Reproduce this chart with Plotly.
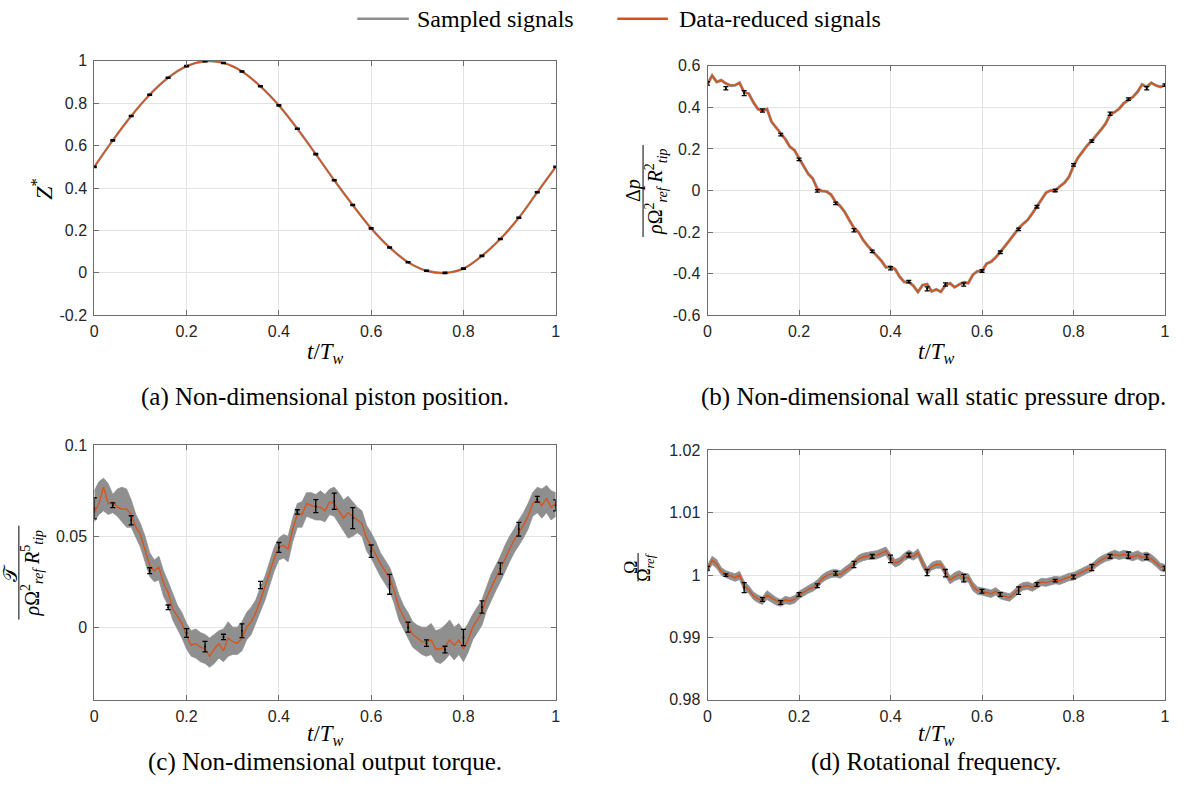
import plotly.graph_objects as go

# The page body keeps its default 8 px margin, so the figure is sized to fit the window exactly.
OFF = 8
W, H = 1187 - 2 * OFF, 810 - 2 * OFF

# ---------------- data ----------------
T = [round(i * 0.01, 2) for i in range(101)]
T_BAR = [round(i * 0.04, 2) for i in range(26)]

# (a) piston position (values at 0.04 spacing)
A_Z = [0.5, 0.625, 0.74, 0.84, 0.92, 0.975, 0.998, 0.99, 0.95, 0.88, 0.79, 0.68, 0.56,
       0.437, 0.32, 0.21, 0.12, 0.05, 0.01, 0.0, 0.02, 0.08, 0.16, 0.26, 0.38, 0.5]
A_ERR = [0.003, 0.003, 0.003, 0.003, 0.003, 0.003, 0.003, 0.003, 0.003, 0.003, 0.003, 0.003, 0.003,
         0.003, 0.003, 0.003, 0.003, 0.003, 0.003, 0.003, 0.003, 0.003, 0.003, 0.003, 0.003, 0.003]

# (b) wall static pressure drop
B_DP = [0.512, 0.553, 0.522, 0.530, 0.515, 0.505, 0.506, 0.518, 0.472, 0.466,
        0.425, 0.392, 0.383, 0.392, 0.330, 0.303, 0.272, 0.247, 0.210, 0.194,
        0.155, 0.117, 0.080, 0.057, 0.008, -0.002, -0.005, -0.020, -0.055, -0.075,
        -0.104, -0.143, -0.180, -0.200, -0.238, -0.266, -0.291, -0.312, -0.338, -0.370,
        -0.366, -0.378, -0.415, -0.440, -0.440, -0.458, -0.488, -0.455, -0.450, -0.485,
        -0.476, -0.487, -0.455, -0.446, -0.465, -0.452, -0.442, -0.445, -0.405, -0.388,
        -0.387, -0.352, -0.342, -0.322, -0.297, -0.268, -0.240, -0.212, -0.182, -0.160,
        -0.141, -0.110, -0.076, -0.043, -0.010, 0.000, -0.001, 0.020, 0.036, 0.065,
        0.118, 0.158, 0.186, 0.217, 0.239, 0.264, 0.292, 0.321, 0.365, 0.377,
        0.394, 0.420, 0.437, 0.450, 0.475, 0.510, 0.498, 0.518, 0.505, 0.498,
        0.507]
B_BAR = [0.515, 0.492, 0.468, 0.385, 0.269, 0.150, -0.002, -0.062, -0.191, -0.293, -0.374, -0.438, -0.473,
         -0.452, -0.452, -0.387, -0.297, -0.187, -0.078, 0.000, 0.123, 0.237, 0.369, 0.439, 0.492, 0.507]
B_ERR = [0.008, 0.008, 0.012, 0.008, 0.006, 0.006, 0.006, 0.006, 0.008, 0.006, 0.008, 0.006, 0.010,
         0.008, 0.008, 0.006, 0.006, 0.006, 0.006, 0.006, 0.006, 0.006, 0.008, 0.006, 0.008, 0.006]

# (c) output torque
C_TQ = [0.063, 0.068, 0.077, 0.068, 0.069, 0.066, 0.065, 0.065, 0.062, 0.055,
        0.051, 0.043, 0.034, 0.031, 0.033, 0.024, 0.019, 0.010, 0.006, 0.002,
        -0.005, -0.010, -0.009, -0.011, -0.012, -0.016, -0.012, -0.009, -0.013, -0.006,
        -0.008, -0.009, -0.006, 0.000, 0.003, 0.008, 0.015, 0.022, 0.030, 0.038,
        0.044, 0.045, 0.043, 0.054, 0.062, 0.062, 0.068, 0.067, 0.066, 0.066,
        0.064, 0.069, 0.068, 0.064, 0.060, 0.063, 0.061, 0.059, 0.057, 0.049,
        0.045, 0.040, 0.035, 0.031, 0.027, 0.020, 0.011, 0.006, 0.001, -0.004,
        -0.006, -0.008, -0.008, -0.007, -0.012, -0.012, -0.011, -0.007, -0.010, -0.007,
        -0.012, -0.007, 0.000, 0.004, 0.008, 0.016, 0.022, 0.027, 0.032, 0.038,
        0.043, 0.048, 0.052, 0.056, 0.061, 0.068, 0.070, 0.067, 0.071, 0.066,
        0.068]
C_UP = [0.075, 0.080, 0.082, 0.079, 0.073, 0.076, 0.077, 0.076, 0.070, 0.062,
        0.057, 0.050, 0.041, 0.037, 0.039, 0.031, 0.025, 0.018, 0.012, 0.008,
        0.002, -0.002, -0.001, -0.003, -0.004, -0.006, -0.004, -0.002, -0.001, 0.003,
        0.000, 0.000, 0.003, 0.008, 0.011, 0.015, 0.022, 0.028, 0.036, 0.044,
        0.049, 0.051, 0.050, 0.060, 0.068, 0.069, 0.074, 0.074, 0.073, 0.075,
        0.073, 0.076, 0.077, 0.074, 0.070, 0.072, 0.069, 0.066, 0.064, 0.056,
        0.052, 0.047, 0.041, 0.037, 0.033, 0.026, 0.018, 0.012, 0.008, 0.003,
        0.001, 0.000, 0.000, 0.002, -0.002, -0.001, 0.001, 0.004, 0.000, 0.002,
        -0.002, 0.002, 0.007, 0.011, 0.015, 0.022, 0.029, 0.034, 0.039, 0.045,
        0.050, 0.054, 0.059, 0.063, 0.068, 0.074, 0.077, 0.076, 0.078, 0.075,
        0.074]
C_LO = [0.058, 0.062, 0.064, 0.062, 0.063, 0.061, 0.058, 0.055, 0.055, 0.049,
        0.044, 0.036, 0.028, 0.025, 0.026, 0.017, 0.012, 0.004, -0.001, -0.006,
        -0.012, -0.016, -0.017, -0.019, -0.020, -0.022, -0.020, -0.017, -0.019, -0.016,
        -0.015, -0.015, -0.013, -0.007, -0.004, 0.002, 0.008, 0.015, 0.023, 0.031,
        0.037, 0.038, 0.036, 0.047, 0.055, 0.055, 0.061, 0.060, 0.059, 0.059,
        0.058, 0.062, 0.061, 0.057, 0.053, 0.049, 0.050, 0.052, 0.050, 0.042,
        0.038, 0.033, 0.028, 0.024, 0.020, 0.013, 0.004, -0.001, -0.006, -0.011,
        -0.013, -0.015, -0.016, -0.015, -0.019, -0.020, -0.018, -0.015, -0.018, -0.015,
        -0.019, -0.014, -0.007, -0.003, 0.001, 0.009, 0.015, 0.020, 0.025, 0.031,
        0.036, 0.041, 0.045, 0.049, 0.054, 0.061, 0.063, 0.060, 0.063, 0.059,
        0.061]
C_BAR = [0.0654, 0.0671, 0.0588, 0.0311, 0.0109, -0.0032, -0.0107, -0.0054, -0.0020, 0.0232, 0.0439, 0.0634, 0.0666,
         0.0693, 0.0600, 0.0418, 0.0236, 0.0000, -0.0088, -0.0123, -0.0057, 0.0111, 0.0323, 0.0539, 0.0704, 0.0670]
C_ERR = [0.0058, 0.0013, 0.0025, 0.0016, 0.0013, 0.0024, 0.0029, 0.0015, 0.0038, 0.0020, 0.0027, 0.0012, 0.0036,
         0.0045, 0.0058, 0.0034, 0.0055, 0.0027, 0.0018, 0.0018, 0.0045, 0.0034, 0.0031, 0.0038, 0.0016, 0.0030]

# (d) rotational frequency
D_OM = [1.0010, 1.0024, 1.0018, 1.0006, 1.0002, 0.9999, 0.9996, 1.0000, 0.9982, 0.9977,
        0.9967, 0.9962, 0.9959, 0.9968, 0.9963, 0.9959, 0.9956, 0.9960, 0.9959, 0.9961,
        0.9968, 0.9973, 0.9977, 0.9980, 0.9985, 0.9994, 0.9999, 1.0002, 1.0003, 1.0001,
        1.0006, 1.0012, 1.0018, 1.0026, 1.0029, 1.0031, 1.0031, 1.0032, 1.0035, 1.0039,
        1.0027, 1.0019, 1.0022, 1.0029, 1.0033, 1.0030, 1.0036, 1.0019, 1.0006, 1.0014,
        1.0017, 1.0017, 1.0005, 0.9992, 0.9997, 1.0001, 0.9996, 0.9996, 0.9982, 0.9975,
        0.9974, 0.9972, 0.9970, 0.9974, 0.9968, 0.9966, 0.9964, 0.9970, 0.9978, 0.9982,
        0.9983, 0.9980, 0.9985, 0.9989, 0.9988, 0.9990, 0.9992, 0.9991, 0.9994, 0.9997,
        0.9998, 1.0002, 1.0006, 1.0009, 1.0012, 1.0019, 1.0024, 1.0028, 1.0030, 1.0033,
        1.0031, 1.0033, 1.0031, 1.0029, 1.0032, 1.0028, 1.0030, 1.0026, 1.0020, 1.0013,
        1.0011]
D_UP = [1.0016, 1.0030, 1.0025, 1.0012, 1.0007, 1.0005, 1.0002, 1.0006, 0.9990, 0.9983,
        0.9973, 0.9968, 0.9965, 0.9975, 0.9969, 0.9964, 0.9961, 0.9966, 0.9964, 0.9967,
        0.9974, 0.9979, 0.9983, 0.9987, 0.9992, 1.0000, 1.0005, 1.0008, 1.0009, 1.0007,
        1.0012, 1.0018, 1.0024, 1.0032, 1.0035, 1.0037, 1.0038, 1.0039, 1.0042, 1.0045,
        1.0034, 1.0025, 1.0028, 1.0035, 1.0040, 1.0036, 1.0042, 1.0026, 1.0012, 1.0020,
        1.0023, 1.0023, 1.0012, 0.9998, 1.0004, 1.0007, 1.0003, 1.0002, 0.9989, 0.9981,
        0.9980, 0.9978, 0.9976, 0.9980, 0.9974, 0.9972, 0.9970, 0.9976, 0.9984, 0.9988,
        0.9989, 0.9986, 0.9991, 0.9995, 0.9994, 0.9996, 0.9998, 0.9997, 1.0000, 1.0003,
        1.0004, 1.0008, 1.0012, 1.0015, 1.0018, 1.0025, 1.0030, 1.0034, 1.0037, 1.0040,
        1.0037, 1.0040, 1.0038, 1.0036, 1.0039, 1.0035, 1.0037, 1.0033, 1.0027, 1.0019,
        1.0017]
D_LO = [1.0004, 1.0017, 1.0011, 1.0000, 0.9996, 0.9993, 0.9990, 0.9993, 0.9975, 0.9971,
        0.9961, 0.9956, 0.9953, 0.9961, 0.9956, 0.9952, 0.9950, 0.9954, 0.9953, 0.9955,
        0.9962, 0.9967, 0.9971, 0.9974, 0.9979, 0.9988, 0.9993, 0.9996, 0.9997, 0.9995,
        1.0000, 1.0006, 1.0012, 1.0020, 1.0023, 1.0025, 1.0025, 1.0026, 1.0029, 1.0032,
        1.0020, 1.0013, 1.0016, 1.0023, 1.0027, 1.0024, 1.0029, 1.0012, 1.0000, 1.0008,
        1.0011, 1.0011, 0.9998, 0.9986, 0.9991, 0.9994, 0.9989, 0.9989, 0.9975, 0.9969,
        0.9968, 0.9966, 0.9964, 0.9968, 0.9962, 0.9960, 0.9958, 0.9964, 0.9971, 0.9976,
        0.9977, 0.9974, 0.9979, 0.9983, 0.9982, 0.9984, 0.9986, 0.9985, 0.9988, 0.9991,
        0.9992, 0.9996, 1.0000, 1.0003, 1.0006, 1.0013, 1.0018, 1.0022, 1.0024, 1.0027,
        1.0025, 1.0027, 1.0025, 1.0023, 1.0026, 1.0022, 1.0024, 1.0020, 1.0014, 1.0007,
        1.0005]
D_BAR = [1.0011, 1.0000, 0.9980, 0.9961, 0.9956, 0.9969, 0.9983, 1.0003, 1.0017, 1.0030, 1.0026, 1.0032, 1.0004,
         1.0003, 0.9995, 0.9974, 0.9969, 0.9975, 0.9985, 0.9991, 0.9997, 1.0012, 1.0030, 1.0032, 1.0029, 1.0011]
D_ERR = [0.0003, 0.0002, 0.0008, 0.0003, 0.0003, 0.0003, 0.0003, 0.0003, 0.0005, 0.0003, 0.0006, 0.0003, 0.0005,
         0.0006, 0.0006, 0.0003, 0.0003, 0.0006, 0.0003, 0.0002, 0.0003, 0.0005, 0.0003, 0.0005, 0.0004, 0.0003]

# ticks
X_TICKS = [0, 0.2, 0.4, 0.6, 0.8, 1]
X_TEXT = ["0", "0.2", "0.4", "0.6", "0.8", "1"]
A_YT = [-0.2, 0, 0.2, 0.4, 0.6, 0.8, 1]
A_YTXT = ["-0.2", "0", "0.2", "0.4", "0.6", "0.8", "1"]
B_YT = [-0.6, -0.4, -0.2, 0, 0.2, 0.4, 0.6]
B_YTXT = ["-0.6", "-0.4", "-0.2", "0", "0.2", "0.4", "0.6"]
C_YT = [0, 0.05, 0.1]
C_YTXT = ["0", "0.05", "0.1"]
D_YT = [0.98, 0.99, 1.0, 1.01, 1.02]
D_YTXT = ["0.98", "0.99", "1", "1.01", "1.02"]

LEGEND_NAMES = ["Sampled signals", "Data-reduced signals"]
CAPTIONS = ["(a) Non-dimensional piston position.",
            "(b) Non-dimensional wall static pressure drop.",
            "(c) Non-dimensional output torque.",
            "(d) Rotational frequency."]

# ---------------- style ----------------
ORANGE = "#D95319"
GRAY = "#8f8f8f"
AXC = "#6e6e6e"
GRID = "#e3e3e3"
TXT = "#262626"
SERIF = "Liberation Serif"
SANS = "Liberation Sans"


def px(x):
    """window pixel x -> paper"""
    return (x - OFF) / W


def py(y):
    """window pixel y -> paper"""
    return 1 - (y - OFF) / H


# panel boxes in window pixels: (left, right, top, bottom)
BOX = {
    1: (99, 564, 62, 322),
    2: (717, 1178, 67, 322),
    3: (99, 564, 455, 715),
    4: (717, 1178, 460, 715),
}
# y positions of the x-axis title and caption for each panel
TITLE_Y = {1: 361, 2: 361, 3: 751, 4: 751}
CAP_Y = {1: 405, 2: 405, 3: 778, 4: 778}
CAP_X = {1: 331, 2: 945, 3: 331, 4: 947}

fig = go.Figure()


def add_band(t, lo, up, k):
    ax = "" if k == 1 else str(k)
    fig.add_trace(go.Scatter(x=t, y=lo, mode="lines", line=dict(color=GRAY, width=0.8),
                             xaxis="x" + ax, yaxis="y" + ax, showlegend=False, hoverinfo="skip"))
    fig.add_trace(go.Scatter(x=t, y=up, mode="lines", line=dict(color=GRAY, width=0.8),
                             fill="tonexty", fillcolor=GRAY,
                             xaxis="x" + ax, yaxis="y" + ax, showlegend=False, hoverinfo="skip"))


def add_line(t, y, k, color, width, shape="linear"):
    ax = "" if k == 1 else str(k)
    fig.add_trace(go.Scatter(x=t, y=y, mode="lines", line=dict(color=color, width=width, shape=shape),
                             xaxis="x" + ax, yaxis="y" + ax, showlegend=False))


def add_bars(t, y, e, k, capw=2.5):
    ax = "" if k == 1 else str(k)
    fig.add_trace(go.Scatter(x=t, y=y, mode="markers", marker=dict(size=2, color="black"),
                             error_y=dict(type="data", array=e, color="black", thickness=1.3, width=capw),
                             xaxis="x" + ax, yaxis="y" + ax, showlegend=False))


# (a)
add_line(T_BAR, A_Z, 1, GRAY, 2.4, "spline")
add_line(T_BAR, A_Z, 1, ORANGE, 1.4, "spline")
add_bars(T_BAR, A_Z, A_ERR, 1)
# (b)
add_line(T, B_DP, 2, GRAY, 3.0)
add_line(T, B_DP, 2, ORANGE, 1.6)
add_bars(T_BAR, B_BAR, B_ERR, 2)
# (c)
add_band(T, C_LO, C_UP, 3)
add_line(T, C_TQ, 3, ORANGE, 1.3)
add_bars(T_BAR, C_BAR, C_ERR, 3)
# (d)
add_band(T, D_LO, D_UP, 4)
add_line(T, D_OM, 4, ORANGE, 1.4)
add_bars(T_BAR, D_BAR, D_ERR, 4)


def axis_common():
    return dict(showline=True, linecolor=AXC, linewidth=1, mirror="ticks",
                ticks="inside", ticklen=5, tickcolor=AXC, tickwidth=1,
                showgrid=True, gridcolor=GRID, gridwidth=1, zeroline=False,
                tickfont=dict(family=SANS, size=16, color=TXT), tickmode="array")


layout = dict(width=W, height=H, margin=dict(l=0, r=0, t=0, b=0), autosize=False,
              paper_bgcolor="white", plot_bgcolor="white", showlegend=False)

YT = {1: (A_YT, A_YTXT, [-0.2, 1]), 2: (B_YT, B_YTXT, [-0.6, 0.6]),
      3: (C_YT, C_YTXT, [-0.04, 0.1]), 4: (D_YT, D_YTXT, [0.98, 1.02])}

for k, (l, r, t, b) in BOX.items():
    ax = "" if k == 1 else str(k)
    xa = axis_common()
    xa.update(domain=[px(l), px(r)], range=[0, 1], tickvals=X_TICKS, ticktext=X_TEXT,
              anchor="y" + ax, ticklabelstandoff=2)
    ya = axis_common()
    vals, txt, rng = YT[k]
    ya.update(domain=[py(b), py(t)], range=rng, tickvals=vals, ticktext=txt,
              anchor="x" + ax, ticklabelstandoff=3)
    layout["xaxis" + ax] = xa
    layout["yaxis" + ax] = ya

fig.update_layout(**layout)

ann = []
shapes = []

# x-axis titles and captions
for k, (l, r, t, b) in BOX.items():
    cx = (l + r) / 2
    ann.append(dict(x=px(cx), y=py(TITLE_Y[k]), xref="paper", yref="paper", showarrow=False,
                    text="<i>t</i>/<i>T<sub>w</sub></i>", font=dict(family=SERIF, size=23, color="black"),
                    xanchor="center", yanchor="middle"))
    ann.append(dict(x=px(CAP_X[k]), y=py(CAP_Y[k]), xref="paper", yref="paper", showarrow=False,
                    text=CAPTIONS[k - 1], font=dict(family=SERIF, size=25, color="black"),
                    xanchor="center", yanchor="middle"))


def rot(x, y, text, size):
    ann.append(dict(x=px(x), y=py(y), xref="paper", yref="paper", showarrow=False, textangle=-90,
                    text=text, font=dict(family=SERIF, size=size, color="black"),
                    xanchor="center", yanchor="middle"))


def vline(x, y0, y1):
    shapes.append(dict(type="line", xref="paper", yref="paper", x0=px(x), x1=px(x),
                       y0=py(y0), y1=py(y1), line=dict(color="black", width=1)))


# y-axis labels
rot(46, 193, "<i>Z</i><sup>*</sup>", 24)
rot(643, 195, "Δ<i>p</i>", 20)
vline(652, 148, 242)
rot(665, 195, "<i>ρ</i>Ω<sup>2</sup><sub><i>ref</i></sub> <i>R</i><sup>2</sup><sub><i>tip</i></sub>", 20)
rot(14, 585, "𝒯", 20)
vline(23, 537, 633)
rot(36, 585, "<i>ρ</i>Ω<sup>2</sup><sub><i>ref</i></sub> <i>R</i><sup>5</sup><sub><i>tip</i></sub>", 20)
rot(640, 580, "Ω", 18)
vline(647, 565, 594)
rot(655, 580, "Ω<sub><i>ref</i></sub>", 18)

# legend (drawn manually)
shapes.append(dict(type="line", xref="paper", yref="paper", x0=px(364), x1=px(416),
                   y0=py(19), y1=py(19), line=dict(color=GRAY, width=2.5)))
shapes.append(dict(type="line", xref="paper", yref="paper", x0=px(626), x1=px(677),
                   y0=py(19), y1=py(19), line=dict(color=ORANGE, width=2.5)))
ann.append(dict(x=px(422), y=py(19), xref="paper", yref="paper", showarrow=False,
                text=LEGEND_NAMES[0], font=dict(family=SERIF, size=24, color="black"),
                xanchor="left", yanchor="middle"))
ann.append(dict(x=px(686), y=py(19), xref="paper", yref="paper", showarrow=False,
                text=LEGEND_NAMES[1], font=dict(family=SERIF, size=24, color="black"),
                xanchor="left", yanchor="middle"))

fig.update_layout(annotations=ann, shapes=shapes)
fig.write_html("out.html")
